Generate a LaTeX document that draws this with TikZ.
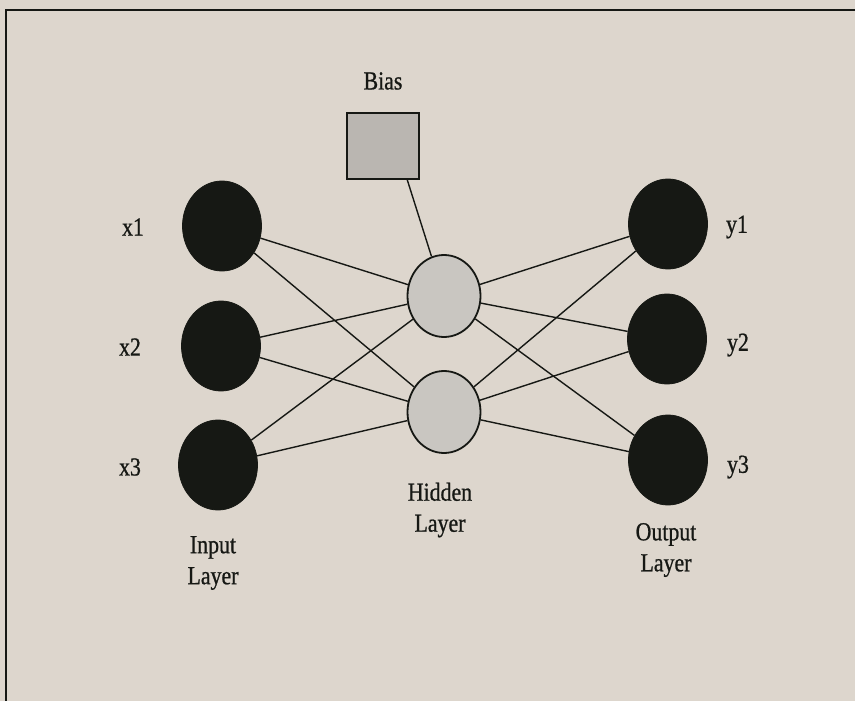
\documentclass[tikz,border=0pt]{standalone}
\usepackage{fontspec}
\setmainfont[FakeStretch=0.84,FakeBold=0.8]{Liberation Serif}
\usetikzlibrary{shapes.geometric}
\definecolor{paper}{RGB}{221,214,205}
\definecolor{ink}{RGB}{22,24,20}
\definecolor{hiddenfill}{RGB}{201,198,193}
\definecolor{biasfill}{RGB}{186,182,177}
\tikzset{
  unitnode/.style={ellipse, fill=ink, draw=ink, line width=0.8pt, inner sep=0pt,
                   minimum width=79pt, minimum height=90pt},
  hiddennode/.style={ellipse, fill=hiddenfill, draw=ink, line width=1.8pt, inner sep=0pt,
                     minimum width=73pt, minimum height=82pt},
  biasbox/.style={rectangle, fill=biasfill, draw=ink, line width=1.8pt, inner sep=0pt,
                  minimum width=72pt, minimum height=66pt},
  link/.style={draw=ink, line width=1.4pt},
  lbl/.style={font=\fontsize{26}{30}\selectfont, text=ink, inner sep=0pt},
  caption/.style={font=\fontsize{26}{31}\selectfont, text=ink, inner sep=0pt, align=center}
}
\begin{document}
\begin{tikzpicture}[x=1pt,y=-1pt]
  % page background and the open frame (top and left edges)
  \fill[paper] (0,0) rectangle (855,701);
  \useasboundingbox (0,0) rectangle (855,701);
  \draw[ink, line width=2.2pt] (6,701) -- (6,10) -- (855,10);

  % input layer
  \node[unitnode] (x1) at (222,226) {};
  \node[unitnode] (x2) at (221,346) {};
  \node[unitnode] (x3) at (218,465) {};
  % hidden layer
  \node[hiddennode] (h1) at (444,296) {};
  \node[hiddennode] (h2) at (444,412) {};
  % output layer
  \node[unitnode] (y1) at (668,224) {};
  \node[unitnode] (y2) at (667,339) {};
  \node[unitnode] (y3) at (668,460) {};
  % bias unit
  \node[biasbox] (bias) at (383,146) {};

  % weights
  \foreach \i in {x1,x2,x3}{
    \foreach \h in {h1,h2}{
      \draw[link] (\i) -- (\h);
    }
  }
  \foreach \h in {h1,h2}{
    \foreach \o in {y1,y2,y3}{
      \draw[link] (\h) -- (\o);
    }
  }
  \coordinate (biasfoot) at (407,179);
  \draw[link] (biasfoot) -- (h1);

  % labels
  \node[lbl] (tbias) at (383,81) {Bias};
  \node[lbl] (tx1) at (133,227) {x1};
  \node[lbl] (tx2) at (130,347) {x2};
  \node[lbl] (tx3) at (130,467) {x3};
  \node[lbl] (ty1) at (737,227) {y1};
  \node[lbl] (ty2) at (738,345) {y2};
  \node[lbl] (ty3) at (738,467) {y3};
  \node[caption] (tin) at (213,563) {Input\\Layer};
  \node[caption] (thid) at (440,510) {Hidden\\Layer};
  \node[caption] (tout) at (666,550) {Output\\Layer};
\end{tikzpicture}
\end{document}
